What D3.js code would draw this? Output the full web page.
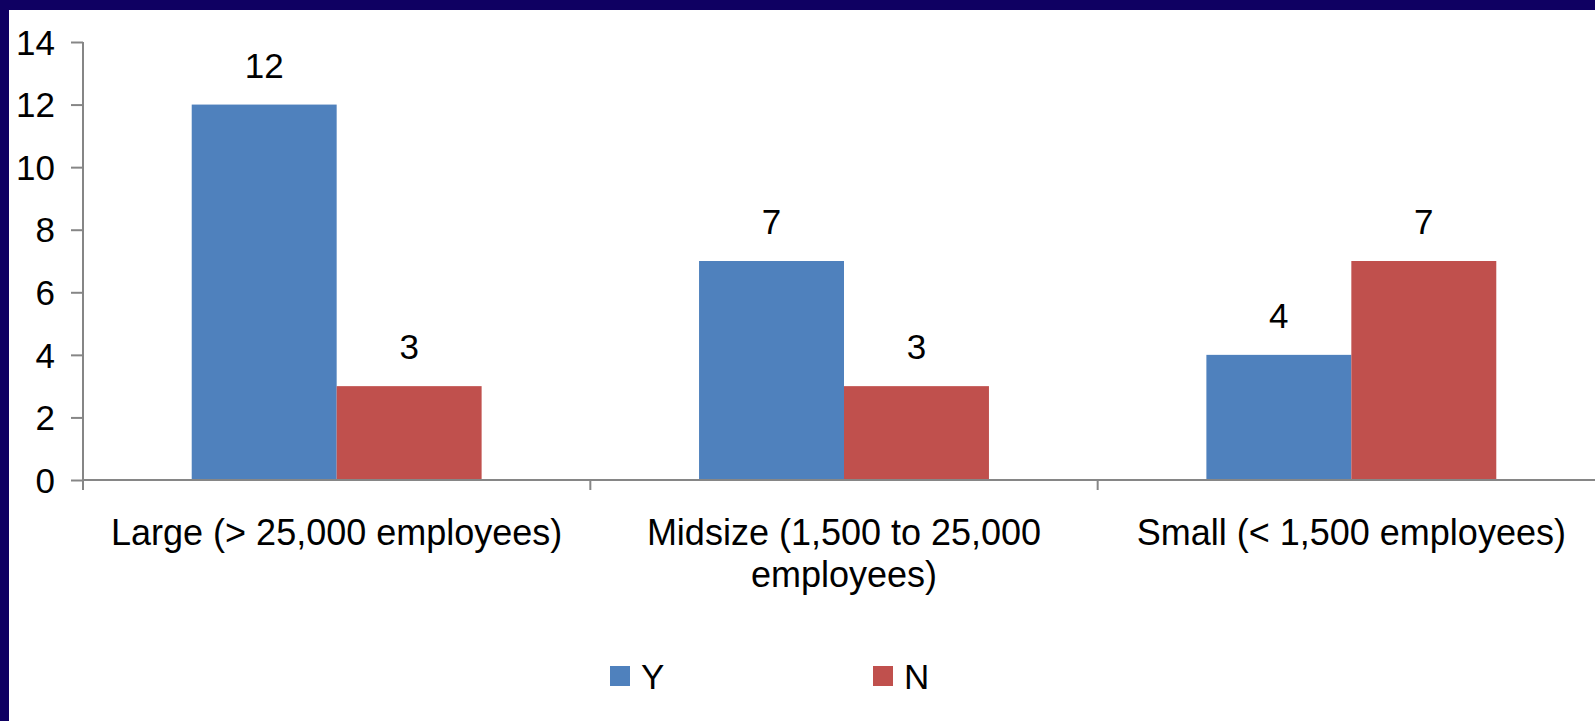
<!DOCTYPE html>
<html>
<head>
<meta charset="utf-8">
<script src="https://cdn.jsdelivr.net/npm/d3@7"></script>
<style>
  body { margin: 0; background: #fff; overflow: hidden; }
  svg text { font-family: "Liberation Sans", Arial, sans-serif; fill: #000; }
</style>
</head>
<body>
<div id="chart"></div>
<script>
const categories = ["Large (> 25,000 employees)", "Midsize (1,500 to 25,000 employees)", "Small (< 1,500 employees)"];
const seriesNames = ["Y", "N"];
const yValues = [12, 7, 4];
const nValues = [3, 3, 7];
const yTicks = [0, 2, 4, 6, 8, 10, 12, 14];
const colors = ["#4f81bd", "#c0504d"];

const width = 1595, height = 721;
// plot runs a little past the right edge, like the original slide
const plot = { left: 83, right: 1605, top: 42, bottom: 480 };
const fontSize = 35;

const svg = d3.select("#chart").append("svg")
    .attr("width", width)
    .attr("height", height);

// frame of the slide
svg.append("rect").attr("x", 0).attr("y", 0).attr("width", width).attr("height", 10).attr("fill", "#0f0062");
svg.append("rect").attr("x", 0).attr("y", 0).attr("width", 9).attr("height", height).attr("fill", "#0f0062");

const x0 = d3.scaleBand()
    .domain(categories)
    .range([plot.left, plot.right])
    .padding(0);

const x1 = d3.scaleBand()
    .domain(seriesNames)
    .range([0, x0.bandwidth()])
    .paddingInner(0)
    .paddingOuter(0.75);

const y = d3.scaleLinear()
    .domain([0, 14])
    .range([plot.bottom, plot.top]);

const rows = categories.map((c, i) => ({ cat: c, vals: [
    { s: "Y", v: yValues[i] },
    { s: "N", v: nValues[i] }
]}));

// bars
const grp = svg.append("g").selectAll("g")
    .data(rows)
    .join("g")
    .attr("transform", d => "translate(" + x0(d.cat) + ",0)");

grp.selectAll("rect")
    .data(d => d.vals)
    .join("rect")
    .attr("x", d => x1(d.s))
    .attr("y", d => y(d.v))
    .attr("width", x1.bandwidth())
    .attr("height", d => y(0) - y(d.v))
    .attr("fill", (d, i) => colors[i]);

grp.selectAll("text.val")
    .data(d => d.vals)
    .join("text")
    .attr("class", "val")
    .attr("x", d => x1(d.s) + x1.bandwidth() / 2)
    .attr("y", d => y(d.v) - 27)
    .attr("text-anchor", "middle")
    .style("font-size", fontSize + "px")
    .text(d => d.v);

// y axis
const axisColor = "#868686";
const yAxis = svg.append("g")
    .attr("transform", "translate(" + plot.left + ",0)")
    .call(d3.axisLeft(y).tickValues(yTicks).tickSize(12).tickPadding(16));
yAxis.select(".domain").remove();
yAxis.selectAll(".tick line").attr("stroke", axisColor).attr("stroke-width", 2);
yAxis.selectAll(".tick text")
    .style("font-size", fontSize + "px")
    .attr("dy", "0.35em")
    .attr("fill", "#000");

svg.append("line")
    .attr("x1", plot.left).attr("x2", plot.left)
    .attr("y1", plot.top).attr("y2", plot.bottom + 10)
    .attr("stroke", axisColor).attr("stroke-width", 2);

// x axis
svg.append("line")
    .attr("x1", plot.left).attr("x2", plot.right)
    .attr("y1", plot.bottom).attr("y2", plot.bottom)
    .attr("stroke", axisColor).attr("stroke-width", 2);

const bounds = categories.map(c => x0(c) + x0.bandwidth());
svg.append("g").selectAll("line")
    .data(bounds)
    .join("line")
    .attr("x1", d => d).attr("x2", d => d)
    .attr("y1", plot.bottom).attr("y2", plot.bottom + 10)
    .attr("stroke", axisColor).attr("stroke-width", 2);

// category labels (wrapped like the original)
const catLines = [
    ["Large (> 25,000 employees)"],
    ["Midsize (1,500 to 25,000", "employees)"],
    ["Small (< 1,500 employees)"]
];
svg.append("g").selectAll("text")
    .data(categories)
    .join("text")
    .attr("x", d => x0(d) + x0.bandwidth() / 2)
    .attr("y", 545)
    .attr("text-anchor", "middle")
    .style("font-size", "36px")
    .each(function (d, i) {
        const t = d3.select(this);
        catLines[i].forEach((ln, j) => {
            t.append("tspan")
                .attr("x", x0(d) + x0.bandwidth() / 2)
                .attr("dy", j === 0 ? 0 : 42)
                .text(ln);
        });
    });

// legend
const legendX = [610, 873];
const lg = svg.append("g").selectAll("g")
    .data(seriesNames)
    .join("g")
    .attr("transform", (d, i) => "translate(" + legendX[i] + ",666)");
lg.append("rect")
    .attr("width", 20).attr("height", 20)
    .attr("fill", (d, i) => colors[i]);
lg.append("text")
    .attr("x", 31)
    .attr("y", 23)
    .style("font-size", fontSize + "px")
    .text(d => d);
</script>
</body>
</html>
